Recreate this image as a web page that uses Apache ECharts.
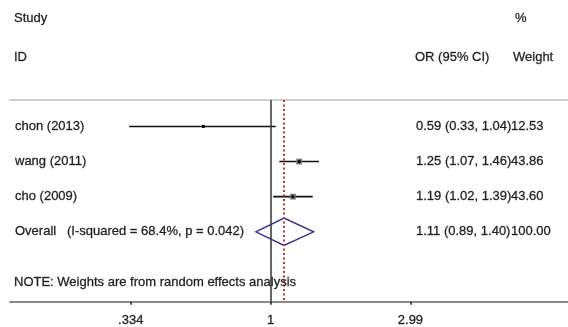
<!DOCTYPE html>
<html>
<head>
<meta charset="utf-8">
<script src="https://cdn.jsdelivr.net/npm/echarts@6/dist/echarts.min.js"></script>
<style>
html,body{margin:0;padding:0;background:#fff;}
#chart{width:568px;height:327px;}
</style>
</head>
<body>
<div id="chart"></div>
<script>
// ---- data ----
const studies = ['chon (2013)', 'wang (2011)', 'cho (2009)'];
const orValues = [0.59, 1.25, 1.19];
const ciLow = [0.33, 1.07, 1.02];
const ciHigh = [1.04, 1.46, 1.39];
const weights = [12.53, 43.86, 43.60];
const overallLabel = 'Overall   (I-squared = 68.4%, p = 0.042)';
const overallOR = [1.11];
const overallLow = [0.89];
const overallHigh = [1.40];
const overallWeight = [100.00];
const tickValues = [0.334, 1, 2.99];
const tickLabels = ['.334', '1', '2.99'];
const headerLeft1 = 'Study', headerLeft2 = 'ID';
const headerRight1 = '%', headerOR = 'OR (95% CI)', headerWeight = 'Weight';
const noteText = 'NOTE: Weights are from random effects analysis';

// ---- build ----
const FONT = '"Liberation Sans", Arial, sans-serif';
const TXT = '#1e1e1e';
const ln = Math.log;
const overallRow = studies.length + 1;
const noteRow = overallRow + 1.44;

const studyData = studies.map((s, i) => [ln(orValues[i]), i + 1, ln(ciLow[i]), ln(ciHigh[i]), weights[i]]);
const fmt = v => v.toFixed(2);
const orText = studies.map((s, i) => `${fmt(orValues[i])} (${fmt(ciLow[i])}, ${fmt(ciHigh[i])})`);
orText.push(`${fmt(overallOR[0])} (${fmt(overallLow[0])}, ${fmt(overallHigh[0])})`);
const wText = weights.map(fmt).concat([fmt(overallWeight[0])]);
const leftLabels = studies.concat([overallLabel]);

const chart = echarts.init(document.getElementById('chart'));
const maxW = Math.max(...weights);
const font = `13px ${FONT}`;
const txtStyle = (t) => ({text: t, font: font, fill: TXT, stroke: '#555', lineWidth: 0.35, verticalAlign: 'middle', align: 'left'});

chart.setOption({
  animation: false,
  backgroundColor: '#fff',
  grid: {left: 10, right: 0, top: 100, bottom: 21},
  xAxis: [{
    type: 'value', min: -2.043, max: 2.33, position: 'bottom',
    splitLine: {show: false},
    axisLine: {show: true, onZero: false, lineStyle: {color: '#8a8a8a', width: 2}},
    axisTick: {show: true, length: 3, customValues: tickValues.map(ln), lineStyle: {color: '#222', width: 1.5}},
    axisLabel: {
      customValues: tickValues.map(ln), margin: 12, fontSize: 13, fontFamily: FONT, color: TXT,
      textBorderColor: '#555', textBorderWidth: 0.35,
      formatter: v => { let b = 0, d = 1e9; tickValues.forEach((t, i) => { const dd = Math.abs(ln(t) - v); if (dd < d) { d = dd; b = i; } }); return tickLabels[b]; }
    }
  }, {
    type: 'value', min: -2.043, max: 2.33, position: 'top',
    axisLine: {show: true, onZero: false, lineStyle: {color: '#cfcfcf', width: 2}},
    axisTick: {show: false}, axisLabel: {show: false}, splitLine: {show: false}
  }],
  yAxis: {
    type: 'value', inverse: true, min: 0.246, max: 5.996,
    axisLine: {show: false}, axisTick: {show: false}, splitLine: {show: false},
    axisLabel: {show: false}
  },
  graphic: [
    {type: 'text', x: 14, y: 18, style: txtStyle(headerLeft1)},
    {type: 'text', x: 14, y: 57, style: txtStyle(headerLeft2)},
    {type: 'text', x: 515, y: 18, style: txtStyle(headerRight1)},
    {type: 'text', x: 415, y: 57, style: txtStyle(headerOR)},
    {type: 'text', x: 513, y: 57, style: txtStyle(headerWeight)}
  ],
  series: [
    {
      type: 'custom', coordinateSystem: 'cartesian2d',
      data: studyData, clip: false,
      renderItem: (params, api) => {
        const row = api.value(1);
        const p = api.coord([api.value(0), row]);
        const a = api.coord([api.value(2), row]);
        const b = api.coord([api.value(3), row]);
        const side = 5.8 * Math.sqrt(api.value(4) / maxW);
        return {type: 'group', children: [
          {type: 'line', shape: {x1: a[0], y1: a[1], x2: b[0], y2: b[1]}, style: {stroke: '#111', lineWidth: 1.6}},
          {type: 'rect', shape: {x: p[0] - side / 2, y: p[1] - side / 2, width: side, height: side}, style: {fill: '#777'}},
          {type: 'circle', shape: {cx: p[0], cy: p[1], r: 1.6}, style: {fill: '#000'}}
        ]};
      },
      markLine: {
        symbol: 'none', silent: true, label: {show: false},
        lineStyle: {color: '#333', width: 1.5, type: 'solid'},
        data: [{xAxis: 0}]
      },
      z: 3
    },
    {
      type: 'custom', coordinateSystem: 'cartesian2d', clip: false,
      data: [[ln(overallOR[0]), overallRow, ln(overallLow[0]), ln(overallHigh[0])]],
      renderItem: (params, api) => {
        const row = api.value(1);
        const l = api.coord([api.value(2), row]);
        const r = api.coord([api.value(3), row]);
        const top = api.coord([api.value(0), row - 0.39]);
        const bot = api.coord([api.value(0), row + 0.39]);
        return {type: 'polygon', shape: {points: [l, top, r, bot]}, style: {fill: 'none', stroke: '#2e2e8e', lineWidth: 1.4}};
      },
      markLine: {
        symbol: 'none', silent: true, label: {show: false},
        lineStyle: {color: '#b83a3a', width: 2, type: [2, 2.5]},
        data: [{xAxis: ln(overallOR[0])}]
      },
      z: 4
    },
    {
      type: 'custom', coordinateSystem: 'cartesian2d', clip: false,
      data: leftLabels.map((t, i) => [0, i + 1]),
      renderItem: (params, api) => {
        const i = params.dataIndex;
        const y = api.coord([0, api.value(1)])[1];
        return {type: 'group', children: [
          {type: 'text', x: 15, y: y, style: txtStyle(leftLabels[i])},
          {type: 'text', x: 416, y: y, style: txtStyle(orText[i])},
          {type: 'text', x: 511, y: y, style: txtStyle(wText[i])}
        ]};
      },
      z: 5
    },
    {
      type: 'custom', coordinateSystem: 'cartesian2d', clip: false,
      data: [[0, noteRow]],
      renderItem: (params, api) => {
        const y = api.coord([0, api.value(1)])[1];
        return {type: 'text', x: 14, y: y, style: txtStyle(noteText)};
      },
      z: 5
    }
  ]
});
</script>
</body>
</html>
